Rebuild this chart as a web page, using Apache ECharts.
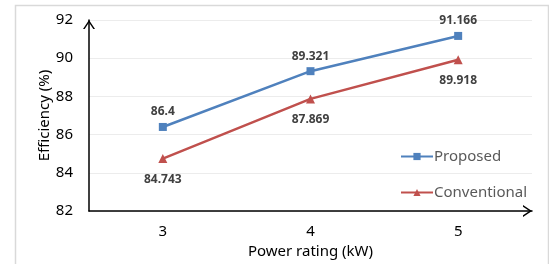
<!DOCTYPE html>
<html style="height: 100%">
<head>
<meta charset="utf-8">
</head>
<body style="height: 100%; margin: 0; background: #fff">
<div id="container" style="width: 549px; height: 264px"></div>
<script type="text/javascript" src="https://cdn.jsdelivr.net/npm/echarts@6/dist/echarts.min.js"></script>
<script type="text/javascript">
// data
var ratings = ['3', '4', '5'];
var proposed = [86.4, 89.321, 91.166];
var conventional = [84.743, 87.869, 89.918];

var font = 'Noto Sans';
// open chevron for the axis arrow heads (drawn pointing up, echarts rotates it)
var chevron = 'path://M0,9L6,0L12,9L10.3,9L6,2.55L1.7,9Z';

var myChart = echarts.init(document.getElementById('container'));
var option = {
    backgroundColor: '#fff',
    animation: false,
    textStyle: { fontFamily: font },
    grid: { left: 89, right: 17, top: 20, bottom: 53 },
    legend: {
        orient: 'vertical',
        left: 395,
        top: 144,
        itemGap: 21,
        itemWidth: 32,
        itemHeight: 9,
        data: ['Proposed', 'Conventional'],
        textStyle: { color: '#595959', fontSize: 15, fontFamily: font, padding: [0, 0, 0, -4] }
    },
    xAxis: {
        type: 'category',
        data: ratings,
        name: 'Power rating (kW)',
        nameLocation: 'middle',
        nameGap: 33,
        nameMoveOverlap: false,
        nameTextStyle: { color: '#000', fontSize: 15 },
        axisLine: {
            show: true,
            lineStyle: { color: '#000', width: 1.5 },
            symbol: ['none', chevron],
            symbolSize: [12, 9],
            symbolOffset: [0, -4.5]
        },
        axisTick: { show: false },
        axisLabel: { color: '#000', fontSize: 15, margin: 13 },
        splitLine: { show: false }
    },
    yAxis: {
        type: 'value',
        min: 82,
        max: 92,
        interval: 2,
        name: 'Efficiency (%)',
        nameLocation: 'middle',
        nameGap: 37,
        nameMoveOverlap: false,
        nameTextStyle: { color: '#000', fontSize: 15 },
        axisLine: {
            show: true,
            lineStyle: { color: '#000', width: 1.5 },
            symbol: ['none', chevron],
            symbolSize: [12, 9],
            symbolOffset: [0, -4.5]
        },
        axisTick: { show: false },
        axisLabel: { color: '#000', fontSize: 15, margin: 16 },
        splitLine: { lineStyle: { color: '#ececec', width: 1 } }
    },
    series: [
        {
            name: 'Proposed',
            type: 'line',
            data: proposed,
            symbol: 'rect',
            symbolSize: 8,
            lineStyle: { color: '#4f81bd', width: 2.5 },
            itemStyle: { color: '#4f81bd' },
            label: {
                show: true,
                position: 'top',
                distance: 5,
                color: '#404040',
                fontSize: 12,
                fontWeight: 'bold'
            }
        },
        {
            name: 'Conventional',
            type: 'line',
            data: conventional,
            symbol: 'triangle',
            symbolSize: 9,
            lineStyle: { color: '#c0504d', width: 2.5 },
            itemStyle: { color: '#c0504d' },
            label: {
                show: true,
                position: 'bottom',
                distance: 10,
                color: '#404040',
                fontSize: 12,
                fontWeight: 'bold'
            }
        }
    ],
    graphic: [
        {
            type: 'rect',
            left: 13,
            top: 3,
            shape: { width: 533, height: 270 },
            style: { fill: 'none', stroke: '#d9d9d9', lineWidth: 1.5 },
            silent: true
        }
    ]
};
myChart.setOption(option);
</script>
</body>
</html>
